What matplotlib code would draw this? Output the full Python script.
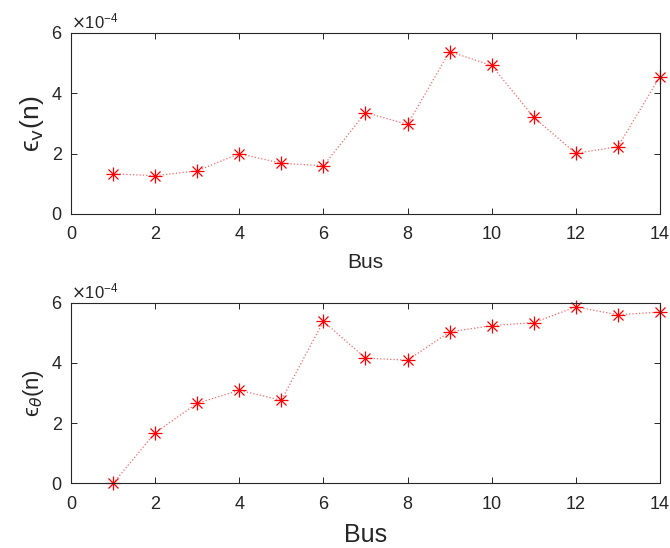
import numpy as np
import matplotlib
matplotlib.use('Agg')
import matplotlib.pyplot as plt

plt.rcParams['font.family'] = ['Liberation Sans', 'DejaVu Sans']

# data
bus = np.arange(1, 15)
eps_v = np.array([1.33, 1.27, 1.43, 2.00, 1.68, 1.60, 3.36, 2.97,
                  5.38, 4.92, 3.20, 2.01, 2.23, 4.55]) * 1e-4
eps_theta = np.array([0.0, 1.68, 2.66, 3.09, 2.76, 5.38, 4.16, 4.09,
                      5.03, 5.24, 5.34, 5.86, 5.60, 5.69]) * 1e-4

axcol = '#262626'
fig = plt.figure(figsize=(6.7, 5.48), dpi=100)
ax1 = fig.add_axes([0.106, 0.6095, 0.879, 0.3305])
ax2 = fig.add_axes([0.106, 0.118, 0.879, 0.3296])

def style(ax, y, ylab, ysize, xsize):
    ax.plot(bus, y, color='#ff6666', linestyle=':', linewidth=0.9)
    # MATLAB-like asterisk = plus + cross
    ax.plot(bus, y, color='red', linestyle='none', marker='+',
            markersize=10, markeredgewidth=0.9, clip_on=False)
    ax.plot(bus, y, color='red', linestyle='none', marker='x',
            markersize=7, markeredgewidth=0.9, clip_on=False)
    ax.set_xlim(0, 14)
    ax.set_ylim(0, 6e-4)
    ax.set_xticks(np.arange(0, 15, 2))
    ax.set_yticks(np.arange(0, 7e-4, 2e-4))
    ax.ticklabel_format(axis='y', style='sci', scilimits=(0, 0), useMathText=True)
    ax.yaxis.get_offset_text().set_fontsize(12)
    ax.yaxis.get_offset_text().set_color(axcol)
    ax.tick_params(direction='in', top=True, right=True, labelsize=13,
                   colors=axcol, length=4, width=0.7)
    ax.tick_params(axis='x', pad=9)
    ax.tick_params(axis='y', pad=6)
    for s in ax.spines.values():
        s.set_color(axcol)
        s.set_linewidth(0.8)
    ax.set_ylabel(ylab, fontsize=ysize, color=axcol)
    ax.set_xlabel('Bus', fontsize=xsize, color=axcol, labelpad=7)

style(ax1, eps_v, 'ϵ$_{\\mathrm{v}}$(n)', 19, 15)
style(ax2, eps_theta, 'ϵ$_{\\theta}$(n)', 16, 18)

fig.savefig('out.png', dpi=100)
